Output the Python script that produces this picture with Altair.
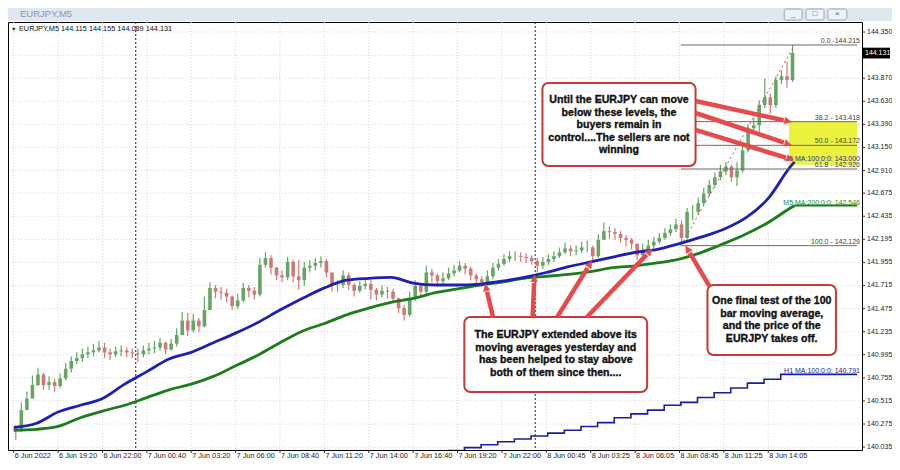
import math
import altair as alt
import pandas as pd

# ---------------- data ----------------
x_labels = ["6 Jun 2022", "6 Jun 19:20", "6 Jun 22:00", "7 Jun 00:40", "7 Jun 03:20",
            "7 Jun 06:00", "7 Jun 08:40", "7 Jun 11:20", "7 Jun 14:00", "7 Jun 16:40",
            "7 Jun 19:20", "7 Jun 22:00", "8 Jun 00:45", "8 Jun 03:25", "8 Jun 06:05",
            "8 Jun 08:45", "8 Jun 11:25", "8 Jun 14:05"]
label_step = 32  # 5-minute bars between time labels
y_ticks = [144.350, 143.870, 143.630, 143.390, 143.150, 142.910, 142.675, 142.435,
           142.195, 141.955, 141.715, 141.475, 141.235, 140.995, 140.755, 140.515,
           140.275, 140.035]
y_grid = [144.350, 144.110] + y_ticks[1:]

# price candles, each drawn candle = 4 five-minute bars
candle_span = 4
first_open = 140.25
closes = [140.21, 140.42, 140.54, 140.68, 140.79, 140.68, 140.71, 140.67, 140.75, 140.85,
          140.93, 140.96, 141.00, 141.02, 141.04, 141.07, 141.02, 141.00, 141.03, 141.04,
          141.02, 141.01, 141.00, 141.04, 141.06, 141.07, 141.12, 141.05, 141.11, 141.20,
          141.35, 141.25, 141.35, 141.29, 141.46, 141.69, 141.65, 141.64, 141.60, 141.50,
          141.56, 141.69, 141.66, 141.62, 141.93, 142.00, 141.90, 141.82, 141.80, 141.96,
          141.81, 141.77, 141.90, 141.92, 141.95, 141.97, 141.85, 141.72, 141.72, 141.82,
          141.72, 141.66, 141.71, 141.73, 141.67, 141.62, 141.66, 141.65, 141.58, 141.48,
          141.41, 141.58, 141.71, 141.65, 141.85, 141.82, 141.76, 141.79, 141.84, 141.87,
          141.92, 141.89, 141.82, 141.78, 141.75, 141.81, 141.90, 141.94, 141.99, 142.02,
          142.02, 142.01, 142.00, 141.97, 141.92, 141.96, 141.99, 142.02, 142.06, 142.10,
          142.07, 142.08, 142.11, 142.11, 142.02, 142.19, 142.28, 142.27, 142.25, 142.21,
          142.19, 142.15, 142.03, 142.08, 142.13, 142.17, 142.21, 142.26, 142.30, 142.35,
          142.21, 142.48, 142.48, 142.57, 142.67, 142.76, 142.84, 142.90, 142.95, 142.84,
          142.91, 143.12, 143.35, 143.38, 143.59, 143.67, 143.59, 143.85, 143.89, 143.85,
          144.131]
highs = [140.26, 140.50, 140.61, 140.78, 140.86, 140.81, 140.77, 140.74, 140.80, 140.91,
         140.98, 141.02, 141.06, 141.08, 141.11, 141.14, 141.12, 141.06, 141.08, 141.09,
         141.07, 141.06, 141.06, 141.09, 141.12, 141.14, 141.17, 141.13, 141.16, 141.27,
         141.44, 141.43, 141.42, 141.38, 141.60, 141.75, 141.72, 141.70, 141.68, 141.61,
         141.63, 141.74, 141.72, 141.70, 142.00, 142.06, 142.03, 141.91, 141.87, 142.01,
         141.98, 141.98, 141.96, 141.98, 142.00, 142.02, 141.99, 141.85, 141.77, 141.87,
         141.85, 141.74, 141.76, 141.79, 141.77, 141.69, 141.72, 141.70, 141.68, 141.59,
         141.51, 141.65, 141.77, 141.73, 141.92, 141.89, 141.84, 141.85, 141.90, 141.93,
         141.97, 141.95, 141.91, 141.84, 141.81, 141.87, 141.95, 141.99, 142.04, 142.07,
         142.07, 142.06, 142.05, 142.03, 142.00, 142.01, 142.04, 142.07, 142.11, 142.16,
         142.13, 142.13, 142.17, 142.18, 142.13, 142.25, 142.37, 142.33, 142.31, 142.28,
         142.24, 142.21, 142.15, 142.15, 142.19, 142.22, 142.26, 142.31, 142.35, 142.41,
         142.39, 142.52, 142.55, 142.63, 142.73, 142.81, 142.89, 142.97, 143.00, 142.97,
         143.00, 143.17, 143.39, 143.45, 143.64, 143.87, 143.71, 143.89, 143.95, 144.04,
         144.215]
lows = [140.11, 140.19, 140.42, 140.54, 140.67, 140.63, 140.63, 140.61, 140.65, 140.73,
        140.81, 140.90, 140.92, 140.96, 140.98, 141.02, 140.96, 140.94, 140.97, 140.98,
        140.97, 140.96, 140.92, 140.97, 141.00, 141.01, 141.04, 141.00, 141.04, 141.08,
        141.22, 141.19, 141.23, 141.23, 141.28, 141.56, 141.58, 141.57, 141.54, 141.46,
        141.47, 141.54, 141.59, 141.57, 141.60, 141.90, 141.83, 141.77, 141.75, 141.77,
        141.75, 141.67, 141.71, 141.85, 141.87, 141.90, 141.80, 141.65, 141.65, 141.69,
        141.67, 141.60, 141.64, 141.67, 141.57, 141.56, 141.59, 141.58, 141.53, 141.43,
        141.35, 141.39, 141.56, 141.59, 141.61, 141.75, 141.71, 141.72, 141.77, 141.81,
        141.85, 141.83, 141.77, 141.73, 141.70, 141.72, 141.78, 141.87, 141.92, 141.96,
        141.97, 141.96, 141.95, 141.93, 141.85, 141.89, 141.93, 141.96, 142.00, 142.04,
        142.02, 142.03, 142.05, 142.06, 141.97, 142.00, 142.19, 142.20, 142.19, 142.16,
        142.12, 142.09, 141.98, 142.00, 142.06, 142.10, 142.15, 142.19, 142.23, 142.27,
        142.13, 142.19, 142.39, 142.45, 142.55, 142.64, 142.73, 142.81, 142.86, 142.79,
        142.75, 142.89, 143.10, 143.31, 143.31, 143.56, 143.50, 143.56, 143.81, 143.77,
        143.83]

# moving averages sampled every 16 bars (last point = last bar)
ma_bars = list(range(0, 561, 16)) + [563]
ma100 = [140.24, 140.28, 140.40, 140.47, 140.54, 140.69, 140.82, 140.95, 141.02, 141.12,
         141.22, 141.33, 141.46, 141.58, 141.69, 141.77, 141.79, 141.80, 141.74, 141.72,
         141.72, 141.73, 141.76, 141.80, 141.85, 141.91, 141.96, 142.01, 142.06, 142.09,
         142.15, 142.22, 142.30, 142.42, 142.62, 142.95, 143.00]
ma200 = [140.21, 140.22, 140.25, 140.34, 140.41, 140.47, 140.55, 140.63, 140.69, 140.77,
         140.88, 140.99, 141.12, 141.24, 141.32, 141.41, 141.48, 141.54, 141.58, 141.64,
         141.68, 141.72, 141.75, 141.79, 141.81, 141.83, 141.86, 141.90, 141.92, 141.95,
         141.99, 142.06, 142.15, 142.25, 142.37, 142.52, 142.546]
ma200_last = 142.546
ma100_last = 143.000

# H1 100-bar MA (steps every hour = 12 bars)
h1_bars = [313, 325, 337, 349, 361, 373, 385, 397, 409, 421, 433, 445, 457, 469, 481,
           493, 505, 517, 529, 541, 553, 608]
h1_vals = [140.00, 140.03, 140.06, 140.09, 140.12, 140.15, 140.18, 140.21, 140.25, 140.29,
           140.34, 140.38, 140.42, 140.47, 140.50, 140.55, 140.60, 140.65, 140.70, 140.74,
           140.791, 140.791]
h1_last = 140.791

# Fibonacci retracement
fib_pct = ["0.0 -", "38.2 - ", "50.0 - ", "61.8 - ", "100.0 - "]
fib_prices = [144.215, 143.418, 143.172, 142.926, 142.129]
fib_start_bar, fib_end_bar = 481, 608
fib_low_bar, fib_high_bar = 481, 563

day_separators = [88, 376]
last_price = 144.131
header = "EURJPY,M5  144.115 144.155 144.089 144.131"

# yellow zone
zone_bars = [559, 608]
zone_prices = [143.418, 142.97]

# annotation boxes
box_x1 = [381.2, 324.9, 500.2]
box_x2 = [491.6, 456.7, 592.8]
box_y1 = [143.820, 141.387, 141.720]
box_y2 = [142.957, 140.607, 140.992]
box_text = [
    "Until the EURJPY can move\nbelow these levels, the\nbuyers remain in\ncontrol....The sellers are not\nwinning",
    "The EURJPY extended above its\nmoving averages yesterday and\nhas been helped to stay above\nboth of them since then....",
    "One final test of the 100\nbar moving average,\nand the price of the\nEURJPY takes off.",
]
box_tx = [436.4, 390.8, 546.5]
box_ty = [143.643, 141.198, 141.553]   # first text line

# arrows
arrow_start_bar = [491.6, 491.6, 491.6, 345.6, 374.1, 391.9, 413.3, 501.6]
arrow_start_price = [143.633, 143.508, 143.332, 141.387, 141.387, 141.387, 141.387, 141.709]
arrow_tip_bar = [560.7, 560.7, 562.2, 339.9, 375.5, 416.8, 460.3, 484.5]
arrow_tip_price = [143.415, 143.175, 143.020, 141.730, 141.824, 141.969, 142.094, 142.125]

# ---------------- layout ----------------
W, H = 854, 428
X_DOM = [-0.5, 608]
Y_DOM = [140.005, 144.454]
PXB = W / (X_DOM[1] - X_DOM[0])
PXP = H / (Y_DOM[1] - Y_DOM[0])
FONT = "Liberation Sans"

xs = alt.Scale(domain=X_DOM, nice=False, zero=False)
ys = alt.Scale(domain=Y_DOM, nice=False, zero=False)


def X(f):
    return alt.X(f, type="quantitative", scale=xs, axis=None)


def Y(f):
    return alt.Y(f, type="quantitative", scale=ys, axis=None)


one = pd.DataFrame({"a": [0]})

# ---- hand-made MT4 style axes ----
xt_df = pd.DataFrame({"bar": [i * label_step for i in range(len(x_labels))], "lab": x_labels})
yt_df = pd.DataFrame({"p": y_ticks, "lab": ["%.3f" % v for v in y_ticks]})
yg_df = pd.DataFrame({"p": y_grid})
GRID = "#d6d6d6"
x_grid = alt.Chart(xt_df).mark_rule(color=GRID, strokeDash=[1, 2], strokeWidth=1).encode(x=X("bar"))
y_gridl = alt.Chart(yg_df).mark_rule(color=GRID, strokeDash=[1, 2], strokeWidth=1).encode(y=Y("p"))
x_ticks = alt.Chart(xt_df).mark_rule(color="#333", clip=False).encode(
    x=X("bar"), y=alt.value(H), y2=alt.value(H + 3))
x_text = alt.Chart(xt_df).mark_text(align="left", baseline="middle", fontSize=7.3, font=FONT,
                                    color="#222", dx=1, clip=False).encode(
    x=X("bar"), y=alt.value(H + 6), text="lab:N")
y_tickm = alt.Chart(yt_df).mark_rule(color="#333", clip=False).encode(
    y=Y("p"), x=alt.value(W), x2=alt.value(W + 3))
y_text = alt.Chart(yt_df).mark_text(align="left", baseline="middle", fontSize=7, font=FONT,
                                    color="#222", clip=False).encode(
    y=Y("p"), x=alt.value(W + 5), text="lab:N")

# day separators
sep_df = pd.DataFrame({"bar": day_separators})
seps = alt.Chart(sep_df).mark_rule(color="#222", strokeDash=[2, 2], strokeWidth=1).encode(x=X("bar"))

# yellow zone
zone_df = pd.DataFrame({"x1": [zone_bars[0]], "x2": [zone_bars[1]], "y1": [zone_prices[0]], "y2": [zone_prices[1]]})
zone = alt.Chart(zone_df).mark_rect(color="#ecf23c").encode(x=X("x1"), x2="x2", y=Y("y1"), y2="y2")

# H1 MA
h1_df = pd.DataFrame({"bar": h1_bars, "v": h1_vals})
h1 = alt.Chart(h1_df).mark_line(color="#1c1ca0", strokeWidth=1.6, interpolate="step-after", clip=True).encode(
    x=X("bar"), y=Y("v"))

# MAs
ma_df = pd.DataFrame({"bar": ma_bars, "m100": ma100, "m200": ma200})
ma200_line = alt.Chart(ma_df).mark_line(color="#1b7d1b", strokeWidth=2.8, interpolate="monotone").encode(
    x=X("bar"), y=Y("m200"))
ma100_line = alt.Chart(ma_df).mark_line(color="#1f1fb0", strokeWidth=2.8, interpolate="monotone").encode(
    x=X("bar"), y=Y("m100"))
ext_df = pd.DataFrame({"x1": [563], "x2": [608], "v": [ma200_last]})
ma200_ext = alt.Chart(ext_df).mark_rule(color="#1b7d1b", strokeWidth=2).encode(x=X("x1"), x2="x2", y=Y("v"))

# candles
n = len(closes)
opens = [first_open] + closes[:-1]
cdf = pd.DataFrame({
    "bar": [candle_span * k + 1.5 for k in range(n)],
    "o": opens, "c": closes, "h": highs, "l": lows,
})
cdf["dir"] = ["up" if c >= o else "down" for o, c in zip(cdf.o, cdf.c)]
ccol = alt.Color("dir:N", scale=alt.Scale(domain=["up", "down"], range=["#66a566", "#d07878"]), legend=None)
wicks = alt.Chart(cdf).mark_rule(strokeWidth=1.2).encode(x=X("bar"), y=Y("l"), y2="h", color=ccol)
bodies = alt.Chart(cdf).mark_bar(size=3.6).encode(x=X("bar"), y=Y("o"), y2="c", color=ccol)

# fib levels
fib_df = pd.DataFrame({"x1": [fib_start_bar] * 5, "x2": [fib_end_bar] * 5, "p": fib_prices,
                       "lab": ["%s%.3f" % (a, b) for a, b in zip(fib_pct, fib_prices)]})
fib_lines = alt.Chart(fib_df).mark_rule(color="#6b6b6b", strokeWidth=1).encode(x=X("x1"), x2="x2", y=Y("p"))
fib_labels = alt.Chart(fib_df).mark_text(align="right", baseline="bottom", fontSize=7, font=FONT,
                                         color="#444", dx=-1, dy=-1).encode(
    x=alt.value(W - 1), y=Y("p"), text="lab:N")
diag_df = pd.DataFrame({"x1": [fib_low_bar], "x2": [fib_high_bar], "y1": [fib_prices[-1]], "y2": [fib_prices[0]]})
diag = alt.Chart(diag_df).mark_rule(color="#b35a4a", strokeDash=[2, 3], strokeWidth=1).encode(
    x=X("x1"), x2="x2", y=Y("y1"), y2="y2")


# MA labels (one layer per colour)
def ma_label(price, text, colour):
    d = pd.DataFrame({"p": [price], "lab": [text]})
    return alt.Chart(d).mark_text(align="right", baseline="bottom", fontSize=7, font=FONT, dx=-1,
                                  color=colour).encode(x=alt.value(W - 1), y=Y("p"), text="lab:N")


lab100 = ma_label(ma100_last, "M5 MA:100:0:0: %.3f" % ma100_last, "#2222b8")
lab200 = ma_label(ma200_last, "M5 MA:200:0:0: %.3f" % ma200_last, "#1e8a1e")
labh1 = ma_label(h1_last, "H1 MA:100:0:0: %.3f" % h1_last, "#2222a8")

# annotation boxes
box_df = pd.DataFrame({"x1": box_x1, "x2": box_x2, "y1": box_y1, "y2": box_y2,
                       "tx": box_tx, "ty": box_ty, "t": box_text})
boxes = alt.Chart(box_df).mark_rect(fill="white", stroke="#c43a34", strokeWidth=2, cornerRadius=6).encode(
    x=X("x1"), x2="x2", y=Y("y1"), y2="y2")
box_texts = alt.Chart(box_df).mark_text(lineBreak="\n", align="center", baseline="middle", font=FONT,
                                        fontWeight="bold", fontSize=10.6, lineHeight=12.6, color="#111",
                                        stroke="#111", strokeWidth=0.35).encode(
    x=X("tx"), y=Y("ty"), text="t:N")

# arrows
rows = []
for sb, sp, tb, tp in zip(arrow_start_bar, arrow_start_price, arrow_tip_bar, arrow_tip_price):
    dx = (tb - sb) * PXB
    dy = -(tp - sp) * PXP
    d = math.hypot(dx, dy)
    ux, uy = dx / d, dy / d
    back = 8.0
    eb = tb - ux * back / PXB
    ep = tp + uy * back / PXP
    ang = math.degrees(math.atan2(dx, -dy)) % 360
    rows.append({"sb": sb, "sp": sp, "eb": eb, "ep": ep, "tb": tb, "tp": tp, "ang": ang})
arr_df = pd.DataFrame(rows)
ARROW = "#e8494a"
shafts = alt.Chart(arr_df).mark_rule(color=ARROW, strokeWidth=4.5).encode(
    x=X("sb"), x2="eb", y=Y("sp"), y2="ep")
heads = alt.Chart(arr_df).mark_point(shape="M0,0L0.85,1.7L-0.85,1.7Z", filled=True, fill=ARROW,
                                     stroke=ARROW, strokeWidth=0.5, size=64, opacity=1).encode(
    x=X("tb"), y=Y("tp"), angle=alt.Angle("ang:Q", scale=None))

# header inside plot
hdr_tri = alt.Chart(one).mark_text(text="\u25bc", fontSize=5.5, align="left", baseline="middle",
                                   color="#222").encode(x=alt.value(3), y=alt.value(7))
hdr = alt.Chart(one).mark_text(text=header, fontSize=7.3, font=FONT, align="left", baseline="middle",
                               color="#111").encode(x=alt.value(11), y=alt.value(7))

# title bar with window buttons
tbar = alt.Chart(one).mark_rect(color="#dfe7f0", clip=False).encode(
    x=alt.value(0), x2=alt.value(W + 30), y=alt.value(-14), y2=alt.value(-1))
ttext = alt.Chart(one).mark_text(text="EURJPY,M5", fontSize=9.5, font=FONT, align="left", baseline="middle",
                                 color="#8c97a4", clip=False).encode(x=alt.value(12), y=alt.value(-8))
btn_df = pd.DataFrame({"b1": [818, 841, 864], "b2": [837, 860, 884], "g": ["_", "\u25a1", "\u00d7"]})
btns = alt.Chart(btn_df).mark_rect(fill="#eef2f7", stroke="#9aa6b4", strokeWidth=1, cornerRadius=2,
                                   clip=False).encode(
    x=alt.X("b1:Q", scale=alt.Scale(type="identity"), axis=None), x2="b2:Q",
    y=alt.value(-13), y2=alt.value(-2))
btn_txt = alt.Chart(btn_df).transform_calculate(c="(datum.b1 + datum.b2) / 2").mark_text(
    fontSize=8, color="#56606c", baseline="middle", clip=False).encode(
    x=alt.X("c:Q", scale=alt.Scale(type="identity"), axis=None), y=alt.value(-8), text="g:N")

# current price tag
tag_df = pd.DataFrame({"p1": [last_price + 0.056], "p2": [last_price - 0.056], "p": [last_price],
                       "t": ["%.3f" % last_price]})
tag = alt.Chart(tag_df).mark_rect(color="#000", clip=False).encode(
    x=alt.value(W + 1), x2=alt.value(W + 28), y=Y("p1"), y2="p2")
tag_text = alt.Chart(tag_df).mark_text(color="white", fontSize=7, font=FONT, align="left",
                                       baseline="middle", clip=False).encode(
    x=alt.value(W + 3), y=Y("p"), text="t:N")

main = alt.layer(
    tbar, ttext, x_grid, y_gridl, x_ticks, x_text, y_tickm, y_text,
    seps, zone, h1, ma200_ext, wicks, bodies, ma200_line, ma100_line,
    fib_lines, diag, fib_labels, lab100, lab200, labh1, boxes, box_texts, shafts, heads,
    hdr_tri, hdr, tag, tag_text,
)
chart = alt.layer(main, btns, btn_txt).resolve_scale(x="independent").properties(
    width=W, height=H, autosize=alt.AutoSizeParams(type="none"),
    padding={"left": 0, "top": 14, "right": 30, "bottom": 12},
    background="white",
).configure_view(stroke="#000", strokeWidth=1, fill="white")

chart.save("out.html", embed_options={"renderer": "svg", "actions": False})
